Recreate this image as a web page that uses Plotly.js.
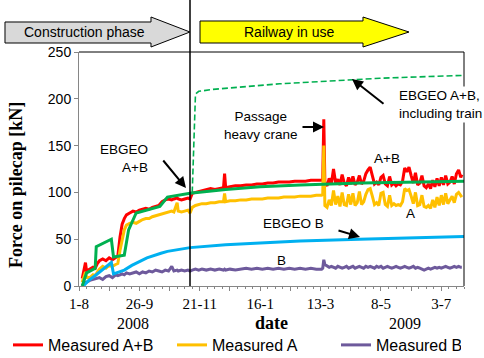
<!DOCTYPE html>
<html><head><meta charset="utf-8">
<script src="https://cdn.plot.ly/plotly-3.0.1.min.js"></script>
<style>html,body{margin:0;padding:0;background:#fff}#chart{width:484px;height:358px}</style>
</head><body><div id="chart"></div>
<script>
// ---------- DATA ----------
const measDates = [
 '2008-08-04','2008-08-05','2008-08-07','2008-08-08','2008-08-11','2008-08-14','2008-08-16','2008-08-18','2008-08-20','2008-08-23',
 '2008-08-26','2008-08-29','2008-09-01','2008-09-04','2008-09-06','2008-09-08','2008-09-10','2008-09-12','2008-09-14','2008-09-17',
 '2008-09-20','2008-09-23','2008-09-26','2008-09-29','2008-10-02','2008-10-05','2008-10-08','2008-10-11','2008-10-14','2008-10-17',
 '2008-10-20','2008-10-23','2008-10-26','2008-10-28','2008-10-31','2008-11-01','2008-11-04','2008-11-07','2008-11-10','2008-11-12',
 '2008-11-14','2008-11-17','2008-11-20','2008-11-23','2008-11-27','2008-12-01','2008-12-05','2008-12-09','2008-12-13','2008-12-14',
 '2008-12-15','2008-12-19','2008-12-24','2008-12-29','2009-01-03','2009-01-08','2009-01-13','2009-01-18','2009-01-23','2009-01-28',
 '2009-02-02','2009-02-07','2009-02-12','2009-02-17','2009-02-22','2009-02-27','2009-03-04','2009-03-09','2009-03-14','2009-03-15',
 '2009-03-16','2009-03-17','2009-03-19','2009-03-21','2009-03-23','2009-03-25','2009-03-27','2009-03-29','2009-03-31','2009-04-02',
 '2009-04-04','2009-04-06','2009-04-08','2009-04-10','2009-04-12','2009-04-14','2009-04-16','2009-04-18','2009-04-20','2009-04-22',
 '2009-04-24','2009-04-26','2009-04-28','2009-04-30','2009-05-02','2009-05-04','2009-05-06','2009-05-08','2009-05-10','2009-05-12',
 '2009-05-14','2009-05-16','2009-05-18','2009-05-20','2009-05-22','2009-05-24','2009-05-26','2009-05-28','2009-05-30','2009-06-01',
 '2009-06-03','2009-06-05','2009-06-07','2009-06-09','2009-06-11','2009-06-13','2009-06-15','2009-06-17','2009-06-19','2009-06-21',
 '2009-06-23','2009-06-25','2009-06-27','2009-06-29','2009-07-01','2009-07-03','2009-07-05','2009-07-07','2009-07-09','2009-07-11',
 '2009-07-13','2009-07-15','2009-07-17','2009-07-19','2009-07-21','2009-07-22'
];
const measuredAB = [
 8,14,25,16,18,20,19,24,27,29,
 27,30,28,31,32,52,66,72,76,78,
 80,79,81,82,83,82,84,85,86,90,
 92,93,92,93,94,93,92,93,94,93,
 99,100,101,102,103,104,103,104,105,120,
 105,106,107,107,108,108,109,109,110,110,
 111,111,111,112,112,112,113,113,113,114,
 178,110,107,115,109,125,110,114,108,119,
 110,107,116,109,117,108,111,118,109,112,
 120,124,127,118,109,111,108,116,118,109,
 107,117,108,110,107,109,108,112,126,122,
 127,118,110,121,108,110,118,107,105,109,
 104,113,106,115,107,116,108,118,109,111,
 117,109,120,124,116,119
];
const measuredA = [
 4,8,15,9,9,12,11,15,18,21,
 19,22,21,23,24,38,50,60,65,67,
 68,67,69,71,72,72,74,75,76,77,
 78,79,80,79,89,80,79,80,81,78,
 84,86,87,88,88,89,89,90,90,99,
 90,91,91,92,92,93,93,93,94,94,
 94,95,95,95,96,96,96,97,97,98,
 150,86,84,92,86,102,87,96,85,100,
 87,86,98,87,99,86,89,101,87,90,
 98,103,104,96,87,89,86,99,100,87,
 85,97,86,88,86,87,86,90,104,102,
 103,96,88,100,86,87,97,85,84,86,
 83,92,84,95,86,97,87,99,88,92,
 96,89,98,100,97,95
];
const measuredB = [
 0,2,4,4,6,7,8,8,9,7,
 10,11,9,12,11,12,13,12,14,13,
 14,15,13,15,14,16,15,17,16,15,
 17,16,21,16,17,16,17,16,17,16,
 17,18,17,18,17,18,17,18,17,18,
 17,18,17,18,19,18,19,18,19,18,
 19,18,19,18,19,18,19,18,18,19,
 28,23,21,20,21,20,19,21,20,19,
 20,21,19,20,21,19,20,21,20,19,
 21,20,21,20,19,21,20,21,19,20,
 21,20,19,20,21,20,19,20,21,20,
 19,20,21,19,20,19,18,17,18,19,
 18,19,20,19,20,19,20,21,20,19,
 20,21,20,21,20,20
];
const ebgeoABDates = ['2008-08-04','2008-08-08','2008-08-16','2008-08-17','2008-08-31','2008-09-02','2008-09-12','2008-09-16','2008-09-23','2008-10-15','2008-10-22','2008-11-12','2008-12-15','2009-01-16','2009-02-22','2009-04-20','2009-07-24'];
const ebgeoAB = [0,14,19,42,50,31,33,60,78,85,95,99,103,106,108,110,112];
const ebgeoBDates = ['2008-08-05','2008-08-10','2008-08-17','2008-08-31','2008-09-02','2008-09-12','2008-09-19','2008-10-03','2008-10-16','2008-10-22','2008-11-12','2008-12-15','2009-01-16','2009-02-22','2009-04-18','2009-06-01','2009-07-24'];
const ebgeoB = [0,6,12,25,13,17,22,30,35,37,41,44,46,48,50,51,53];
const trainDates = ['2008-11-14','2008-11-17','2008-11-20','2008-12-03','2009-02-03','2009-04-07','2009-05-07','2009-07-23'];
const ebgeoTrain = [100,205,208,210,216,220,222,225];
const tickDates = ['2008-08-01','2008-08-29','2008-09-26','2008-10-24','2008-11-21','2008-12-19','2009-01-16','2009-02-13','2009-03-13','2009-04-10','2009-05-08','2009-06-05','2009-07-03'];
const tickLabels = ['1-8','','26-9','','21-11','','16-1','','13-3','','8-5','','3-7'];
const yearLabels = ['2008','2009'];
const seriesNames = ['Measured A+B','Measured A','Measured B'];

// ---------- LAYOUT HELPERS ----------
const L=79, T=52, W=385, H=234;
const px = x => (x-L)/W;
const py = y => (T+H-y)/H;
const SANS = 'Liberation Sans, Arial, sans-serif';
const SERIF = 'Liberation Serif, Times New Roman, serif';
function poly(pts){ return 'M' + pts.map(p => px(p[0]).toFixed(5)+','+py(p[1]).toFixed(5)).join(' L') + ' Z'; }

const traces = [
 {x: measDates, y: measuredAB, name: seriesNames[0], mode:'lines', line:{color:'#ff0000', width:3}, legendwidth:119},
 {x: measDates, y: measuredA, name: seriesNames[1], mode:'lines', line:{color:'#ffc000', width:3}, legendwidth:119},
 {x: measDates, y: measuredB, name: seriesNames[2], mode:'lines', line:{color:'#6e5a9c', width:3}, legendwidth:80},
 {x: ebgeoBDates, y: ebgeoB, name:'EBGEO B', mode:'lines', line:{color:'#00b0f0', width:3}, showlegend:false},
 {x: ebgeoABDates, y: ebgeoAB, name:'EBGEO A+B', mode:'lines', line:{color:'#00b050', width:3}, showlegend:false},
 {x: trainDates, y: ebgeoTrain, name:'EBGEO A+B, including train', mode:'lines', line:{color:'#00b050', width:1.6, dash:'6px,3px'}, showlegend:false}
];

function arrow(tx,ty,hx,hy){
  return {xref:'paper', yref:'paper', x:px(hx), y:py(hy), ax:tx-hx, ay:ty-hy, axref:'pixel', ayref:'pixel',
    text:'', showarrow:true, arrowhead:2, arrowsize:1.1, arrowwidth:2, arrowcolor:'#000', standoff:0, startstandoff:0};
}
function label(text,x,y,opt){
  return Object.assign({xref:'paper', yref:'paper', x:px(x), y:py(y), xanchor:'center', yanchor:'middle', text:text, showarrow:false,
    font:{family:SANS, size:13.5, color:'#000'}}, opt||{});
}

const layout = {
  width:484, height:358,
  margin:{l:L, r:484-L-W, t:T, b:358-T-H, autoexpand:false},
  paper_bgcolor:'#fff', plot_bgcolor:'#fff',
  showlegend:true,
  legend:{orientation:'h', x:px(8), xanchor:'left', y:py(345), yanchor:'middle',
    font:{family:SANS, size:16, color:'#000'}, bgcolor:'rgba(0,0,0,0)'},
  xaxis:{type:'date', range:['2008-08-01','2009-07-24'], tickmode:'array', tickvals:tickDates, ticktext:tickLabels,
    showgrid:false, zeroline:false, showline:true, linecolor:'#868686', linewidth:1, automargin:false,
    ticks:'outside', ticklen:4, tickcolor:'#868686', tickfont:{family:SERIF, size:15, color:'#000'},
    minor:{dtick:7*86400000, tick0:'2008-08-01', ticks:'outside', ticklen:2, tickcolor:'#868686', showgrid:false}},
  yaxis:{range:[0,250], dtick:50, showgrid:false, zeroline:false, showline:true, linecolor:'#868686', linewidth:1, automargin:false,
    ticks:'outside', ticklen:4, tickcolor:'#868686', tickfont:{family:SANS, size:14, color:'#000'}},
  shapes:[
    {type:'line', xref:'paper', yref:'paper', x0:0, x1:1, y0:1, y1:1, line:{color:'#000', width:1}},
    {type:'line', xref:'paper', yref:'paper', x0:1, x1:1, y0:0, y1:1, line:{color:'#000', width:1}},
    {type:'line', xref:'paper', yref:'paper', x0:px(190), x1:px(190), y0:0, y1:py(0), line:{color:'#000', width:1.5}},
    {type:'path', xref:'paper', yref:'paper', path:poly([[5,22],[151,22],[151,17],[190,32],[151,47],[151,43],[5,43]]),
      fillcolor:'#d9d9d9', line:{color:'#000', width:1}},
    {type:'path', xref:'paper', yref:'paper', path:poly([[200,21],[363,21],[363,17],[409,32],[363,47],[363,43],[200,43]]),
      fillcolor:'#ffff00', line:{color:'#000', width:1}}
  ],
  annotations:[
    label('Construction phase',84,32,{font:{family:SANS,size:14,color:'#000'}}),
    label('Railway in use',289,32,{font:{family:SANS,size:14,color:'#000'}}),
    label('<b>Force on pilecap [kN]</b>',16,185,{textangle:-90, font:{family:SERIF,size:18,color:'#000'}}),
    label(yearLabels[0],133,323,{font:{family:SERIF,size:16,color:'#000'}}),
    label('<b>date</b>',271,323,{font:{family:SERIF,size:18,color:'#000'}}),
    label(yearLabels[1],405,323,{font:{family:SERIF,size:16,color:'#000'}}),
    label('EBGEO<br>A+B',150,158,{xanchor:'right', align:'right'}),
    label('Passage<br>heavy crane',261,125,{align:'center'}),
    label('EBGEO A+B,<br>including train',397,104,{xanchor:'left', align:'left', bgcolor:'#fff', borderpad:1}),
    label('A+B',387,158),
    label('A',410,213),
    label('EBGEO B',293,223),
    label('B',281,260),
    arrow(162,159,186,188),
    arrow(301,127,324,127),
    arrow(385,105,352,79),
    arrow(337,230,360,237)
  ]
};
Plotly.newPlot('chart', traces, layout, {displayModeBar:false, staticPlot:true});
</script></body></html>
